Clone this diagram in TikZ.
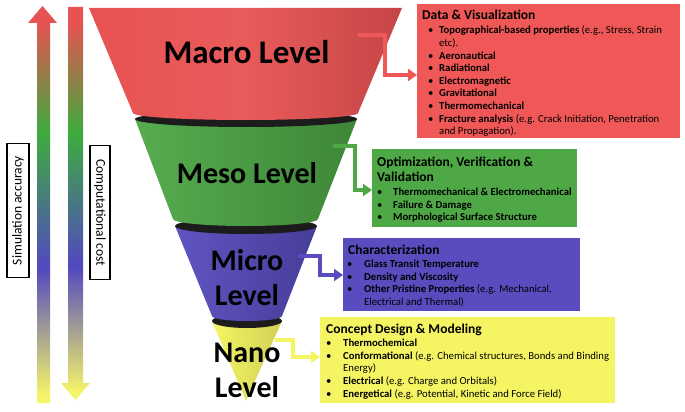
\documentclass[tikz,border=0pt]{standalone}
\usepackage{fontspec}
\setmainfont{Carlito}
\usetikzlibrary{arrows.meta}
\definecolor{rcol}{RGB}{240,88,88}
\definecolor{gcol}{RGB}{78,168,70}
\definecolor{bcol}{RGB}{88,76,190}
\definecolor{ycol}{RGB}{245,245,100}
\definecolor{gR}{RGB}{232,82,82}
\definecolor{gG}{RGB}{62,172,62}
\definecolor{gB}{RGB}{82,72,192}
\definecolor{gY}{RGB}{245,245,105}
\definecolor{rimc}{RGB}{28,28,28}
\pgfdeclareverticalshading{levelgrad}{100bp}{color(0bp)=(gY); color(26bp)=(gY); color(42bp)=(gB); color(59bp)=(gG); color(73bp)=(gR); color(100bp)=(gR)}
\tikzset{
  boxnode/.style={rectangle, inner sep=0pt, draw=none, anchor=north west},
  titletxt/.style={font=\fontsize{13.5}{15}\selectfont\bfseries, inner sep=0pt, anchor=base west, align=left},
  itemtxt/.style={font=\fontsize{10.7}{12.6}\selectfont, inner sep=0pt, anchor=north west, align=left},
  biglbl/.style={font=\fontsize{30}{35}\selectfont\bfseries, inner sep=0pt, align=center},
  conn/.style={line width=4pt, line join=miter, -{Triangle[length=9pt,width=12pt]}},
  sidelbl/.style={draw=black, line width=1.2pt, fill=white, inner sep=0pt, font=\fontsize{13.5}{15}\selectfont, minimum height=20pt, minimum width=134pt}
}
\newcommand{\bl}[1]{\makebox[#1][l]{\textbullet}}
\begin{document}
\begin{tikzpicture}[x=1pt,y=-1pt]
\useasboundingbox (0,0) rectangle (685,412);
\fill[white] (0,0) rectangle (685,412);
% side arrows
\shade[shading=levelgrad] (37,403) -- (37,23) -- (28,23) -- (42.5,6) -- (57,23) -- (50,23) -- (50,403) -- cycle;
\shade[shading=levelgrad] (68,7) -- (83,7) -- (83,383) -- (90,383) -- (75.5,400) -- (61,383) -- (68,383) -- cycle;
\node[sidelbl, rotate=90, minimum height=22pt] (acc) at (18,210.5) {Simulation accuracy};
\node[sidelbl, rotate=-90] (cost) at (100,212.5) {Computational cost};
% funnel: nano
\shade[left color=ycol, right color=ycol!85!black] (212,321) -- (246,401) -- (282,321) -- cycle;
\fill[rimc] (247,321) ellipse[x radius=35pt, y radius=7pt];
% micro
\shade[left color=bcol!95!white, right color=bcol!80!black] (175,226) -- (212,316) arc[start angle=180, end angle=360, x radius=35pt, y radius=5pt] -- (317,226) -- cycle;
\fill[rimc] (246,226) ellipse[x radius=71pt, y radius=8pt];
% meso
\shade[left color=gcol!95!white, right color=gcol!80!black] (135,119) -- (173,219) arc[start angle=180, end angle=360, x radius=72.5pt, y radius=7pt] -- (357,119) -- cycle;
\fill[rimc] (246,119) ellipse[x radius=111pt, y radius=8pt];
% macro
\shade[left color=gR, right color=gR!85!black, middle color=gR!95!white] (89,8) -- (402,8) -- (358,113) arc[start angle=0, end angle=-180, x radius=112.5pt, y radius=7pt] -- cycle;
% level labels
\node[biglbl, font=\fontsize{33}{35}\selectfont\bfseries] (macro) at (246.5,52) {Macro Level};
\node[biglbl] (meso) at (247,173) {Meso Level};
\node[biglbl] (micro) at (247,277.5) {Micro\\Level};
\node[biglbl] (nano) at (247,370) {Nano\\Level};
% boxes
\node[boxnode, fill=rcol, minimum width=263pt, minimum height=134pt] (rbox) at (417,4) {};
\node[boxnode, fill=gcol, minimum width=205pt, minimum height=78pt] (gbox) at (372,149) {};
\node[boxnode, fill=bcol, minimum width=237pt, minimum height=73pt] (bbox) at (343,238) {};
\node[boxnode, fill=ycol, minimum width=295pt, minimum height=86pt] (ybox) at (320,317) {};
% connectors
\coordinate (rs) at (358,35); \coordinate (rk) at (385,75);
\draw[conn, rcol] (rs) -| (rk) -- (rk -| rbox.west);
\coordinate (gs) at (333,146); \coordinate (gk) at (355,190);
\draw[conn, gcol] (gs) -| (gk) -- (gk -| gbox.west);
\coordinate (bs) at (298,256); \coordinate (bk) at (320,275);
\draw[conn, bcol] (bs) -| (bk) -- (bk -| bbox.west);
\coordinate (ys) at (275,340); \coordinate (yk) at (293,357);
\draw[conn, ycol] (ys) -| (yk) -- (yk -| ybox.west);
% box texts
\node[titletxt] (rtitle) at (422,19.5) {Data \& Visualization};
\node[itemtxt] (rlist) at (428,24.9) {\begin{tabular}{@{}l@{}l@{}}
\bl{11pt} & \textbf{Topographical-based properties} (e.g., Stress, Strain\\
 & etc).\\
\bl{11pt} & \textbf{Aeronautical}\\
\bl{11pt} & \textbf{Radiational}\\
\bl{11pt} & \textbf{Electromagnetic}\\
\bl{11pt} & \textbf{Gravitational}\\
\bl{11pt} & \textbf{Thermomechanical}\\
\bl{11pt} & \textbf{Fracture analysis} (e.g. Crack Initiation, Penetration\\
 & and Propagation).
\end{tabular}};
\node[titletxt] (gtitle) at (377,181.5) {Optimization, Verification \&\\Validation};
\node[itemtxt] (glist) at (377,186.7) {\begin{tabular}{@{}l@{}l@{}}
\bl{16pt} & \textbf{Thermomechanical \& Electromechanical}\\
\bl{16pt} & \textbf{Failure \& Damage}\\
\bl{16pt} & \textbf{Morphological Surface Structure}
\end{tabular}};
\node[titletxt] (btitle) at (348,254.5) {Characterization};
\node[itemtxt] (blist) at (347,258.7) {\begin{tabular}{@{}l@{}l@{}}
\bl{17pt} & \textbf{Glass Transit Temperature}\\
\bl{17pt} & \textbf{Density and Viscosity}\\
\bl{17pt} & \textbf{Other Pristine Properties} (e.g. Mechanical,\\
 & Electrical and Thermal)
\end{tabular}};
\node[titletxt] (ytitle) at (326,333.5) {Concept Design \& Modeling};
\node[itemtxt] (ylist) at (326,337.7) {\begin{tabular}{@{}l@{}l@{}}
\bl{17pt} & \textbf{Thermochemical}\\
\bl{17pt} & \textbf{Conformational} (e.g. Chemical structures, Bonds and Binding\\
 & Energy)\\
\bl{17pt} & \textbf{Electrical} (e.g. Charge and Orbitals)\\
\bl{17pt} & \textbf{Energetical} (e.g. Potential, Kinetic and Force Field)
\end{tabular}};
\end{tikzpicture}
\end{document}
